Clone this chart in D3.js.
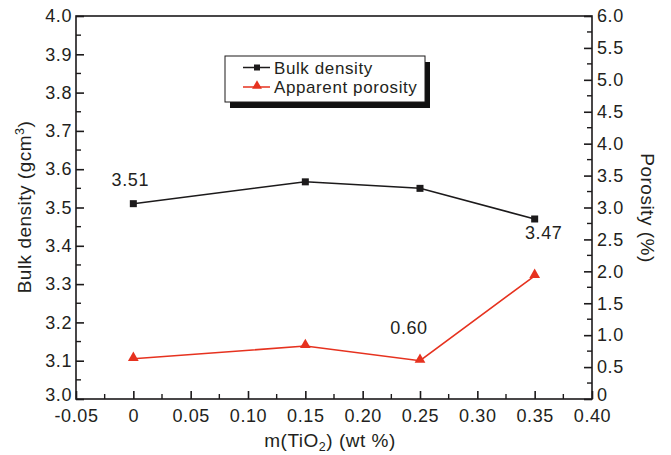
<!DOCTYPE html>
<html>
<head>
<meta charset="utf-8">
<script src="https://cdn.jsdelivr.net/npm/d3@7"></script>
<style>
body { margin: 0; background: #fff; }
text { font-family: "Liberation Sans", Arial, sans-serif; fill: #231f20; }
</style>
</head>
<body>
<div id="chart"></div>
<script>
// data
var tio2 = [0, 0.15, 0.25, 0.35];
var bulkDensity = [3.51, 3.567, 3.55, 3.47];
var porosity = [0.63, 0.83, 0.60, 1.93];
var xTicks = [-0.05, 0, 0.05, 0.10, 0.15, 0.20, 0.25, 0.30, 0.35, 0.40];
var xTickLabels = ["-0.05", "0", "0.05", "0.10", "0.15", "0.20", "0.25", "0.30", "0.35", "0.40"];
var yLeftTicks = [3.0, 3.1, 3.2, 3.3, 3.4, 3.5, 3.6, 3.7, 3.8, 3.9, 4.0];
var yRightTicks = [0, 0.5, 1.0, 1.5, 2.0, 2.5, 3.0, 3.5, 4.0, 4.5, 5.0, 5.5, 6.0];
var notes = [
  {text: "3.51", x: 0, y: 3.51, dx: -3, dy: -18},
  {text: "3.47", x: 0.35, y: 3.47, dx: 9, dy: 20}
];

(function(){
var W = 671, H = 455;
var pL = 76, pR = 592, pT = 16, pB = 399;
var red = "#e6321f", dark = "#1c1a1b";
var fs = 18, ls = 0.6;

var svg = d3.select("#chart").append("svg")
  .attr("width", W).attr("height", H);

var x = d3.scaleLinear().domain([-0.05, 0.40]).range([pL, pR]);
var yL = d3.scaleLinear().domain([3.0, 4.0]).range([pB, pT]);
var yR = d3.scaleLinear().domain([0, 6]).range([pB, pT]);

// frame
svg.append("rect").attr("x", pL).attr("y", pT)
  .attr("width", pR - pL).attr("height", pB - pT)
  .attr("fill", "none").attr("stroke", dark).attr("stroke-width", 1.6);

// bottom axis, ticks inward
var xAxis = d3.axisBottom(x).tickValues(xTicks)
  .tickFormat(function(d, i){ return xTickLabels[i]; })
  .tickSizeInner(-8).tickSizeOuter(0).tickPadding(14);
var gx = svg.append("g").attr("transform", "translate(0," + pB + ")").call(xAxis);
var xMinor = d3.range(-0.025, 0.40, 0.05);
gx.selectAll(".minor").data(xMinor).enter().append("line")
  .attr("x1", function(d){ return x(d); }).attr("x2", function(d){ return x(d); })
  .attr("y1", 0).attr("y2", -5).attr("stroke", dark).attr("stroke-width", 1.4);

// left axis
var yAxisL = d3.axisLeft(yL).tickValues(yLeftTicks).tickFormat(d3.format(".1f"))
  .tickSizeInner(-8).tickSizeOuter(0).tickPadding(4);
var gl = svg.append("g").attr("transform", "translate(" + pL + ",0)").call(yAxisL);
gl.selectAll(".minor").data(d3.range(3.05, 4.0, 0.1)).enter().append("line")
  .attr("x1", 0).attr("x2", 5)
  .attr("y1", function(d){ return yL(d); }).attr("y2", function(d){ return yL(d); })
  .attr("stroke", dark).attr("stroke-width", 1.4);

// right axis
var yAxisR = d3.axisRight(yR).tickValues(yRightTicks)
  .tickFormat(function(d){ return d === 0 ? "0" : d3.format(".1f")(d); })
  .tickSizeInner(-8).tickSizeOuter(0).tickPadding(5);
var gr = svg.append("g").attr("transform", "translate(" + pR + ",0)").call(yAxisR);
gr.selectAll(".minor").data(d3.range(0.25, 6.0, 0.5)).enter().append("line")
  .attr("x1", 0).attr("x2", -5)
  .attr("y1", function(d){ return yR(d); }).attr("y2", function(d){ return yR(d); })
  .attr("stroke", dark).attr("stroke-width", 1.4);

[gx, gl, gr].forEach(function(g){
  g.select(".domain").remove();
  g.attr("font-size", fs).attr("font-family", null);
  g.selectAll(".tick line").attr("stroke", dark).attr("stroke-width", 1.6);
  g.selectAll(".tick text").attr("fill", "#231f20").attr("letter-spacing", ls);
});
gx.selectAll(".tick text").attr("dy", "0.71em").attr("y", 10);
// lowest y labels sit a little above the corner, as in the figure
gl.selectAll(".tick text").filter(function(d){ return d === 3.0; }).attr("y", -4);
gr.selectAll(".tick text").filter(function(d){ return d === 0; }).attr("y", -4);

// axis titles
var tx = svg.append("text").attr("x", 330).attr("y", 447)
  .attr("text-anchor", "middle").attr("font-size", 19).attr("letter-spacing", 0.5);
tx.append("tspan").text("m(TiO");
tx.append("tspan").text("2").attr("font-size", 12.5).attr("dy", 4);
tx.append("tspan").text(") (wt %)").attr("dy", -4);

var tl = svg.append("text")
  .attr("transform", "translate(31,207) rotate(-90)")
  .attr("text-anchor", "middle").attr("font-size", 19).attr("letter-spacing", 0.5);
tl.append("tspan").text("Bulk density (gcm");
tl.append("tspan").text("3").attr("font-size", 12.5).attr("dy", -7);
tl.append("tspan").text(")").attr("dy", 7);

svg.append("text")
  .attr("transform", "translate(641,208) rotate(90)")
  .attr("text-anchor", "middle").attr("font-size", 19).attr("letter-spacing", 0.5)
  .text("Porosity (%)");

// series
var bulkPts = tio2.map(function(d, i){ return [x(d), yL(bulkDensity[i])]; });
var poroPts = tio2.map(function(d, i){ return [x(d), yR(porosity[i])]; });

svg.append("path").attr("d", d3.line()(bulkPts))
  .attr("fill", "none").attr("stroke", dark).attr("stroke-width", 1.5);
svg.selectAll(".sq").data(bulkPts).enter().append("rect")
  .attr("x", function(d){ return d[0] - 3.5; }).attr("y", function(d){ return d[1] - 3.5; })
  .attr("width", 7).attr("height", 7).attr("fill", dark);

svg.append("path").attr("d", d3.line()(poroPts))
  .attr("fill", "none").attr("stroke", red).attr("stroke-width", 1.6);
var tri = d3.symbol().type(d3.symbolTriangle).size(50);
svg.selectAll(".tri").data(poroPts).enter().append("path")
  .attr("d", tri)
  .attr("transform", function(d){ return "translate(" + d[0] + "," + (d[1] - 1) + ")"; })
  .attr("fill", red);

// value notes
notes.forEach(function(n){
  svg.append("text").attr("x", x(n.x) + n.dx).attr("y", yL(n.y) + n.dy)
    .attr("text-anchor", "middle").attr("font-size", fs).attr("letter-spacing", ls).text(n.text);
});
svg.append("text").attr("x", x(0.25) - 11).attr("y", yR(0.60) - 27)
  .attr("text-anchor", "middle").attr("font-size", fs).attr("letter-spacing", ls).text("0.60");

// legend
var lg = svg.append("g").attr("transform", "translate(225,56)");
lg.append("rect").attr("x", 5).attr("y", 6).attr("width", 200).attr("height", 46).attr("fill", "#111");
lg.append("rect").attr("x", 0).attr("y", 0).attr("width", 200).attr("height", 46)
  .attr("fill", "#fff").attr("stroke", dark).attr("stroke-width", 1);
var items = [{name: "Bulk density", color: dark, mark: "sq"}, {name: "Apparent porosity", color: red, mark: "tri"}];
items.forEach(function(it, i){
  var yy = 11.5 + i * 19.5;
  lg.append("line").attr("x1", 18).attr("x2", 45).attr("y1", yy).attr("y2", yy)
    .attr("stroke", it.color).attr("stroke-width", 1.5);
  if (it.mark === "sq") {
    lg.append("rect").attr("x", 29).attr("y", yy - 3).attr("width", 6).attr("height", 6).attr("fill", it.color);
  } else {
    lg.append("path").attr("d", d3.symbol().type(d3.symbolTriangle).size(42))
      .attr("transform", "translate(32," + (yy - 1) + ")").attr("fill", it.color);
  }
  lg.append("text").attr("x", 49).attr("y", yy + 6).attr("font-size", 17)
    .attr("letter-spacing", ls).text(it.name);
});
})();
</script>
</body>
</html>
